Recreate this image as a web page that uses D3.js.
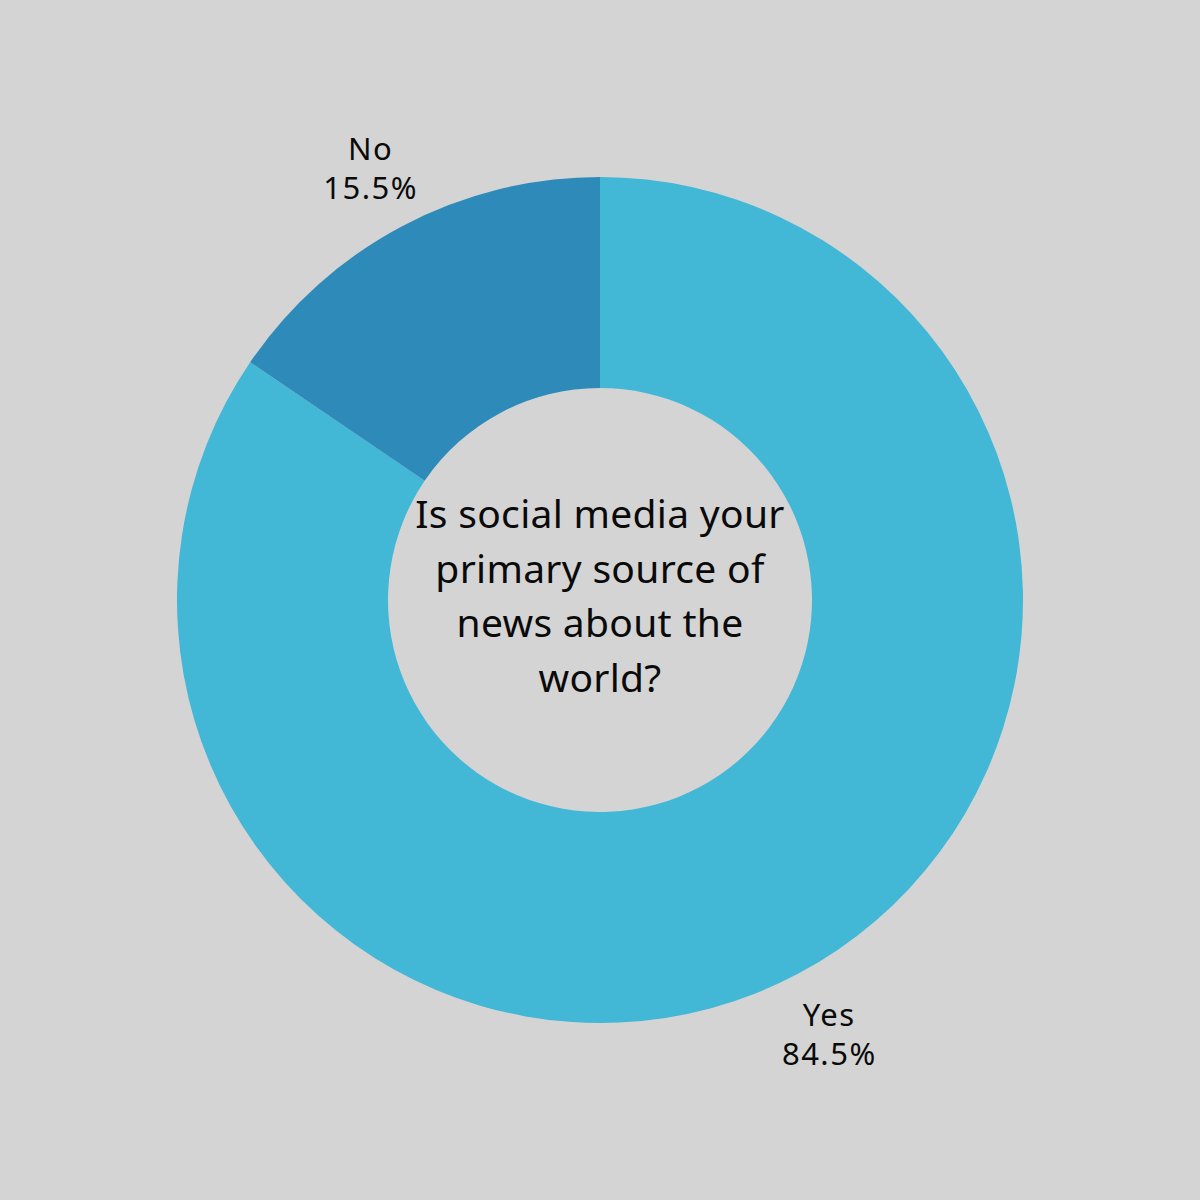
<!DOCTYPE html>
<html><head><meta charset="utf-8">
<script src="https://cdn.jsdelivr.net/npm/d3@7"></script>
<style>html,body{margin:0;padding:0;background:#d4d4d4;}</style>
</head><body>
<svg id="chart" width="1200" height="1200"></svg>
<script>
const categories = ["Yes", "No"];
const values = [84.5, 15.5];
const labels = ["84.5%", "15.5%"];
const colors = ["#42b7d6", "#2e8bb9"];
const questionLines = ["Is social media your", "primary source of", "news about the", "world?"];

const svg = d3.select("#chart");
svg.append("rect").attr("width", 1200).attr("height", 1200).attr("fill", "#d4d4d4");
const g = svg.append("g").attr("transform", "translate(600,600)");

const data = categories.map((c, i) => ({cat: c, value: values[i], label: labels[i], color: colors[i]}));
const pie = d3.pie().value(d => d.value).sort(null);
const arcs = pie(data);
const arc = d3.arc().innerRadius(212).outerRadius(423);
const labelArc = d3.arc().innerRadius(490).outerRadius(490);

g.selectAll("path.slice").data(arcs).join("path")
  .attr("class", "slice")
  .attr("d", arc)
  .attr("fill", d => d.data.color);

const font = "'Noto Sans', 'DejaVu Sans', sans-serif";
const lbl = g.selectAll("text.lbl").data(arcs).join("text")
  .attr("class", "lbl")
  .attr("transform", d => `translate(${labelArc.centroid(d)})`)
  .attr("text-anchor", "middle")
  .attr("font-family", font)
  .attr("font-size", 31)
  .attr("letter-spacing", 1.5)
  .attr("fill", "#0a0a0a");
lbl.append("tspan").attr("x", 0).attr("y", -7).text(d => d.data.cat);
lbl.append("tspan").attr("x", 0).attr("y", 32).text(d => d.data.label);

const q = g.append("text")
  .attr("text-anchor", "middle")
  .attr("font-family", font)
  .attr("font-size", 39)
  .attr("letter-spacing", 0.3)
  .attr("fill", "#0a0a0a");
questionLines.forEach((t, i) => {
  q.append("tspan").attr("x", 0).attr("y", -72 + i * 54.7).text(t);
});
</script>
</body></html>
